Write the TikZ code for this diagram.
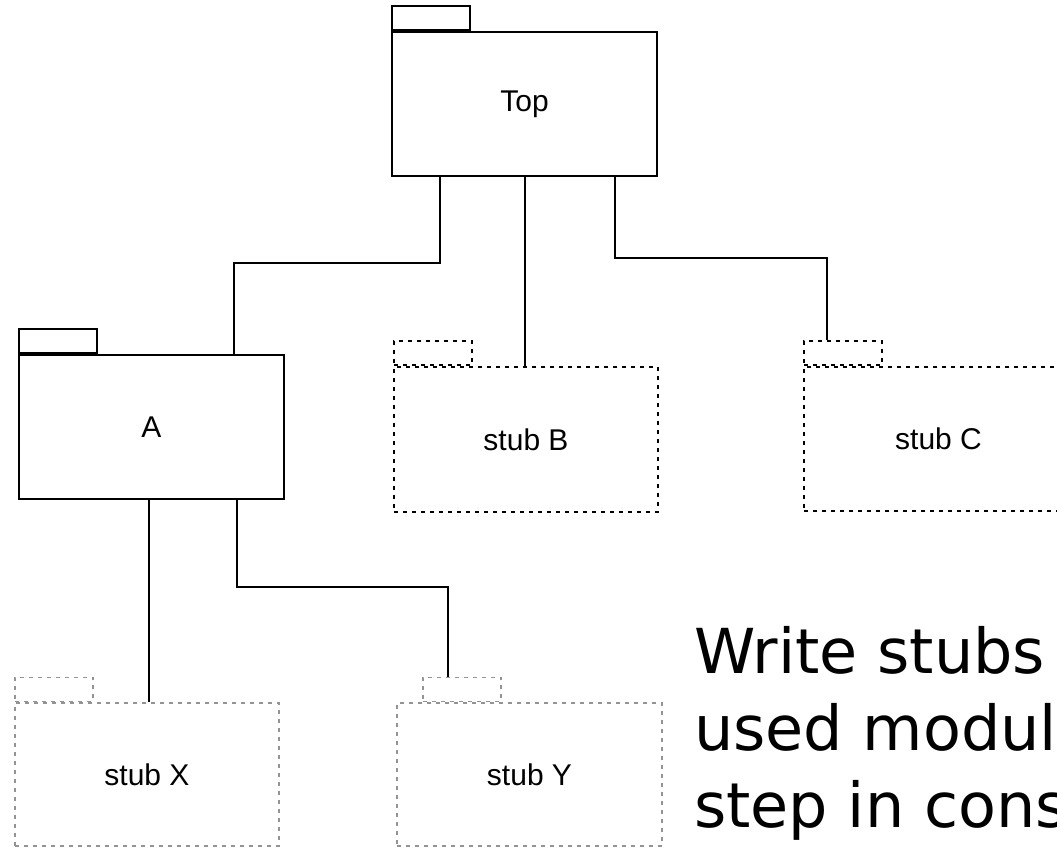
\documentclass[tikz,border=0pt]{standalone}
\usepackage{fontspec}
\setmainfont{Liberation Sans}
\newfontfamily\bigfont{DejaVu Sans}
\tikzset{
  pkg/.style={draw=black, line width=2pt, rectangle, inner sep=0pt, font=\fontsize{30}{36}\selectfont},
  stubpkg/.style={draw=black, line width=2pt, dash pattern=on 4pt off 5pt, rectangle, inner sep=0pt, font=\fontsize{30}{36}\selectfont},
  graystub/.style={draw=gray!85, line width=1.6pt, dash pattern=on 4pt off 5pt, rectangle, inner sep=0pt, font=\fontsize{30}{36}\selectfont},
  tabsize/.style={minimum width=78pt, minimum height=24pt, anchor=south west},
  link/.style={draw=black, line width=2pt}
}
\begin{document}
\begin{tikzpicture}[x=1pt,y=-1pt]
\useasboundingbox (0,0) rectangle (1057,847);
% Top
\node[pkg, minimum width=265pt, minimum height=144pt] (top) at (524.5,104) {Top};
\node[pkg, tabsize] (toptab) at (top.north west) {};
% A
\node[pkg, minimum width=265pt, minimum height=144pt] (a) at (151.5,427) {A};
\node[pkg, tabsize] (atab) at (a.north west) {};
% stub B
\node[stubpkg, minimum width=264pt, minimum height=145pt] (b) at (526,439.5) {stub B};
\node[stubpkg, tabsize] (btab) at (b.north west) {};
% stub C
\node[stubpkg, minimum width=269pt, minimum height=144pt] (c) at (938.5,439) {stub C};
\node[stubpkg, tabsize] (ctab) at (c.north west) {};
% stub X
\node[graystub, minimum width=264pt, minimum height=143pt] (x) at (147,774.5) {stub X};
\node[graystub, tabsize] (xtab) at (x.north west) {};
% stub Y
\node[graystub, minimum width=265pt, minimum height=143pt] (y) at (529.5,774.5) {stub Y};
\node[graystub, tabsize] (ytab) at ([xshift=26pt]y.north west) {};
% bend coordinates
\coordinate (ta) at (234,263);
\coordinate (tc) at (827,258);
\coordinate (ay) at (448,587);
% connectors
\draw[link] (top.south -| 440,0) |- (ta) -- (a.north -| ta);
\draw[link] (top.south -| 525,0) -- (b.north -| 525,0);
\draw[link] (top.south -| 615,0) |- (tc) -- (ctab.north -| tc);
\draw[link] (a.south -| 149,0) -- (x.north -| 149,0);
\draw[link] (a.south -| 237,0) |- (ay) -- (ytab.north -| ay);
% text
\node[anchor=base west, align=left, inner sep=0pt, font=\bigfont\fontsize{62}{77}\selectfont] (note) at (694,827) {Write stubs\\used modul\\step in cons};
\end{tikzpicture}
\end{document}
